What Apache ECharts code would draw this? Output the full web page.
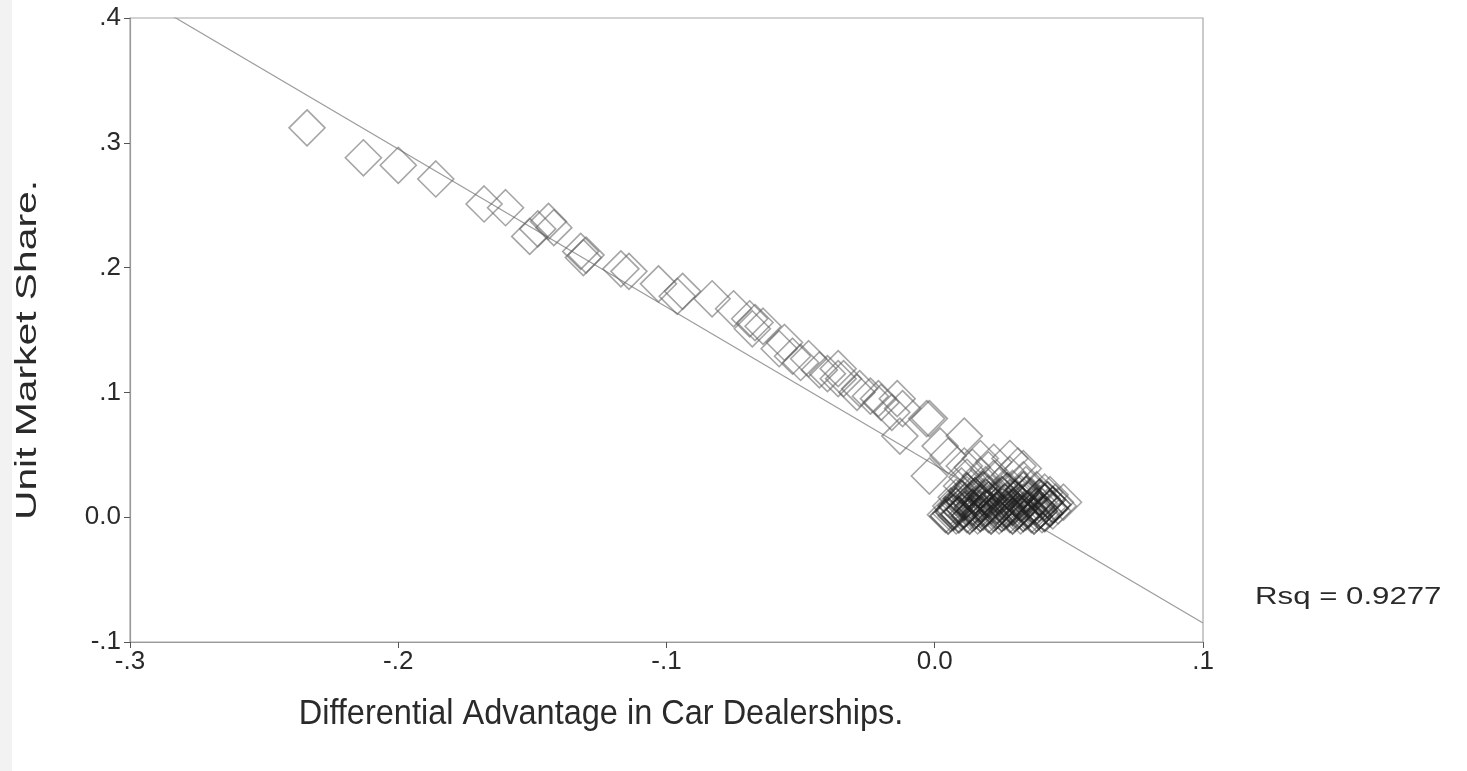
<!DOCTYPE html>
<html>
<head>
<meta charset="utf-8">
<script src="https://cdn.jsdelivr.net/npm/echarts@6/dist/echarts.min.js"></script>
<style>
  html, body { margin: 0; padding: 0; background: #ffffff; }
  #chart { width: 1467px; height: 771px; }
</style>
</head>
<body>
<div id="chart"></div>
<script>
// Differential advantage in car dealerships (x) vs. unit market share (y)
const spreadPoints = [
  [-0.234, 0.312], [-0.213, 0.288], [-0.200, 0.282], [-0.186, 0.271],
  [-0.168, 0.251], [-0.160, 0.248], [-0.151, 0.225], [-0.148, 0.231],
  [-0.144, 0.237], [-0.142, 0.232], [-0.132, 0.213], [-0.130, 0.210],
  [-0.131, 0.208], [-0.117, 0.199], [-0.114, 0.197], [-0.103, 0.187],
  [-0.096, 0.177], [-0.094, 0.181], [-0.083, 0.175], [-0.075, 0.167],
  [-0.069, 0.159], [-0.068, 0.151], [-0.067, 0.156], [-0.064, 0.153],
  [-0.058, 0.135], [-0.056, 0.140], [-0.053, 0.129], [-0.050, 0.124],
  [-0.047, 0.127], [-0.043, 0.118], [-0.040, 0.115], [-0.036, 0.119],
  [-0.036, 0.111], [-0.034, 0.111], [-0.029, 0.100], [-0.028, 0.103],
  [-0.024, 0.097], [-0.021, 0.095], [-0.020, 0.092], [-0.016, 0.084],
  [-0.014, 0.095], [-0.012, 0.087], [-0.013, 0.065], [-0.003, 0.079],
  [-0.002, 0.079], [0.002, 0.057], [0.005, 0.049], [0.011, 0.065],
  [0.011, 0.041], [0.017, 0.047], [-0.002, 0.033], [0.022, 0.044],
  [0.028, 0.047], [0.033, 0.039]
];

const clusterPoints = [
  [0.004, 0.002], [0.006, 0.003], [0.008, 0.001], [0.010, 0.004], [0.012, 0.002],
  [0.014, 0.003], [0.016, 0.001], [0.018, 0.004], [0.020, 0.002], [0.022, 0.003],
  [0.024, 0.001], [0.026, 0.004], [0.028, 0.002], [0.030, 0.003], [0.032, 0.001],
  [0.034, 0.004], [0.036, 0.002], [0.038, 0.003], [0.040, 0.002],
  [0.006, 0.009], [0.009, 0.011], [0.012, 0.008], [0.015, 0.010], [0.018, 0.012],
  [0.021, 0.009], [0.024, 0.011], [0.027, 0.008], [0.030, 0.010], [0.033, 0.012],
  [0.036, 0.009], [0.039, 0.011], [0.042, 0.008], [0.045, 0.012], [0.048, 0.012],
  [0.008, 0.016], [0.012, 0.018], [0.016, 0.015], [0.020, 0.019], [0.024, 0.017],
  [0.028, 0.016], [0.032, 0.019], [0.036, 0.017], [0.040, 0.015], [0.043, 0.018],
  [0.010, 0.025], [0.014, 0.024], [0.019, 0.026], [0.024, 0.025], [0.029, 0.023],
  [0.034, 0.026], [0.038, 0.022],
  [0.012, 0.032], [0.017, 0.033], [0.022, 0.031], [0.028, 0.034], [0.033, 0.030],
  [0.014, 0.040], [0.020, 0.038], [0.031, 0.041],
  [0.007, 0.006], [0.017, 0.006], [0.025, 0.006], [0.035, 0.007], [0.044, 0.005],
  [0.013, 0.013], [0.023, 0.014], [0.031, 0.013], [0.041, 0.020], [0.046, 0.009]
];

// Densest low-share dealerships near zero advantage
const densePoints = [
  [0.005, 0.001], [0.007, 0.004], [0.009, 0.002], [0.011, 0.006], [0.013, 0.001],
  [0.015, 0.005], [0.017, 0.003], [0.019, 0.007], [0.021, 0.001], [0.023, 0.005],
  [0.025, 0.003], [0.027, 0.006], [0.029, 0.001], [0.031, 0.005], [0.033, 0.003],
  [0.035, 0.006], [0.037, 0.001], [0.039, 0.005], [0.041, 0.003], [0.043, 0.007],
  [0.008, 0.009], [0.011, 0.012], [0.014, 0.008], [0.017, 0.011], [0.020, 0.014],
  [0.023, 0.009], [0.026, 0.012], [0.029, 0.008], [0.032, 0.011], [0.035, 0.014],
  [0.038, 0.009], [0.041, 0.012], [0.044, 0.010],
  [0.010, 0.015], [0.015, 0.017], [0.019, 0.016], [0.025, 0.018], [0.030, 0.015],
  [0.034, 0.018], [0.039, 0.016], [0.042, 0.014],
  [0.012, 0.021], [0.018, 0.022], [0.027, 0.021], [0.033, 0.022]
];

// Least-squares fit line y = fitIntercept + fitSlope * x
const fitIntercept = 0.0418;
const fitSlope = -1.266;
const rsqText = 'Rsq = 0.9277';

const xTickLabels = { '-0.3': '-.3', '-0.2': '-.2', '-0.1': '-.1', '0': '0.0', '0.1': '.1' };
const yTickLabels = { '-0.1': '-.1', '0': '0.0', '0.1': '.1', '0.2': '.2', '0.3': '.3', '0.4': '.4' };

const xTitle = 'Differential Advantage in Car Dealerships.';
const yTitle = 'Unit Market Share.';

const xMin = -0.3, xMax = 0.1;
const fitLine = [xMin, xMax].map(x => [x, fitIntercept + fitSlope * x]);

function tickFmt(map) {
  return v => {
    const k = String(Math.round(v * 10) / 10);
    return map[k] !== undefined ? map[k] : k;
  };
}

const chart = echarts.init(document.getElementById('chart'), null, { renderer: 'canvas' });
const axisColor = '#9a9a9a';
const labelFont = { color: '#2a2a2a', fontFamily: 'Liberation Sans', fontSize: 26 };
const diamondSize = 36;

chart.setOption({
  animation: false,
  backgroundColor: '#ffffff',
  grid: {
    left: 130, right: 264, top: 18, bottom: 129,
    show: true, borderColor: '#a8a8a8', borderWidth: 1.2, backgroundColor: 'transparent'
  },
  xAxis: {
    type: 'value', min: xMin, max: xMax, interval: 0.1,
    splitLine: { show: false },
    axisLine: { onZero: false, lineStyle: { color: axisColor, width: 1.2 } },
    axisTick: { inside: false, length: 6, lineStyle: { color: '#555' } },
    axisLabel: Object.assign({ formatter: tickFmt(xTickLabels), margin: 7 }, labelFont)
  },
  yAxis: {
    type: 'value', min: -0.1, max: 0.4, interval: 0.1,
    splitLine: { show: false },
    axisLine: { onZero: false, lineStyle: { color: axisColor, width: 1.2 } },
    axisTick: { inside: false, length: 6, lineStyle: { color: '#555' } },
    axisLabel: Object.assign({ formatter: tickFmt(yTickLabels), margin: 9 }, labelFont)
  },
  series: [
    {
      type: 'line',
      data: fitLine,
      symbol: 'none',
      clip: true,
      lineStyle: { color: '#9c9c9c', width: 1.2 },
      z: 1
    },
    {
      type: 'scatter',
      data: spreadPoints.concat(clusterPoints),
      symbol: 'diamond',
      symbolSize: diamondSize,
      itemStyle: { color: 'rgba(0,0,0,0)', borderColor: 'rgba(95,95,95,0.7)', borderWidth: 1.6 },
      z: 2
    },
    {
      type: 'scatter',
      data: densePoints,
      symbol: 'diamond',
      symbolSize: diamondSize,
      itemStyle: { color: 'rgba(0,0,0,0)', borderColor: 'rgba(30,30,30,0.75)', borderWidth: 1.8 },
      z: 3
    }
  ],
  graphic: [
    {
      type: 'rect', left: 0, top: 0,
      shape: { width: 12, height: 771 },
      style: { fill: '#f2f2f2' }, silent: true
    },
    {
      type: 'text', x: 601, y: 714, scaleY: 1.1,
      style: {
        text: xTitle, fill: '#2a2a2a', font: '32.5px "Liberation Sans"',
        textAlign: 'center', textVerticalAlign: 'middle'
      }
    },
    {
      type: 'text', x: 28, y: 350, rotation: Math.PI / 2, scaleX: 1.36,
      style: {
        text: yTitle, fill: '#2a2a2a', font: '30px "Liberation Sans"',
        textAlign: 'center', textVerticalAlign: 'middle'
      }
    },
    {
      type: 'text', x: 1255, y: 597, scaleX: 1.3,
      style: {
        text: rsqText, fill: '#2a2a2a', font: '24px "Liberation Sans"',
        textAlign: 'left', textVerticalAlign: 'middle'
      }
    }
  ]
});
</script>
</body>
</html>
